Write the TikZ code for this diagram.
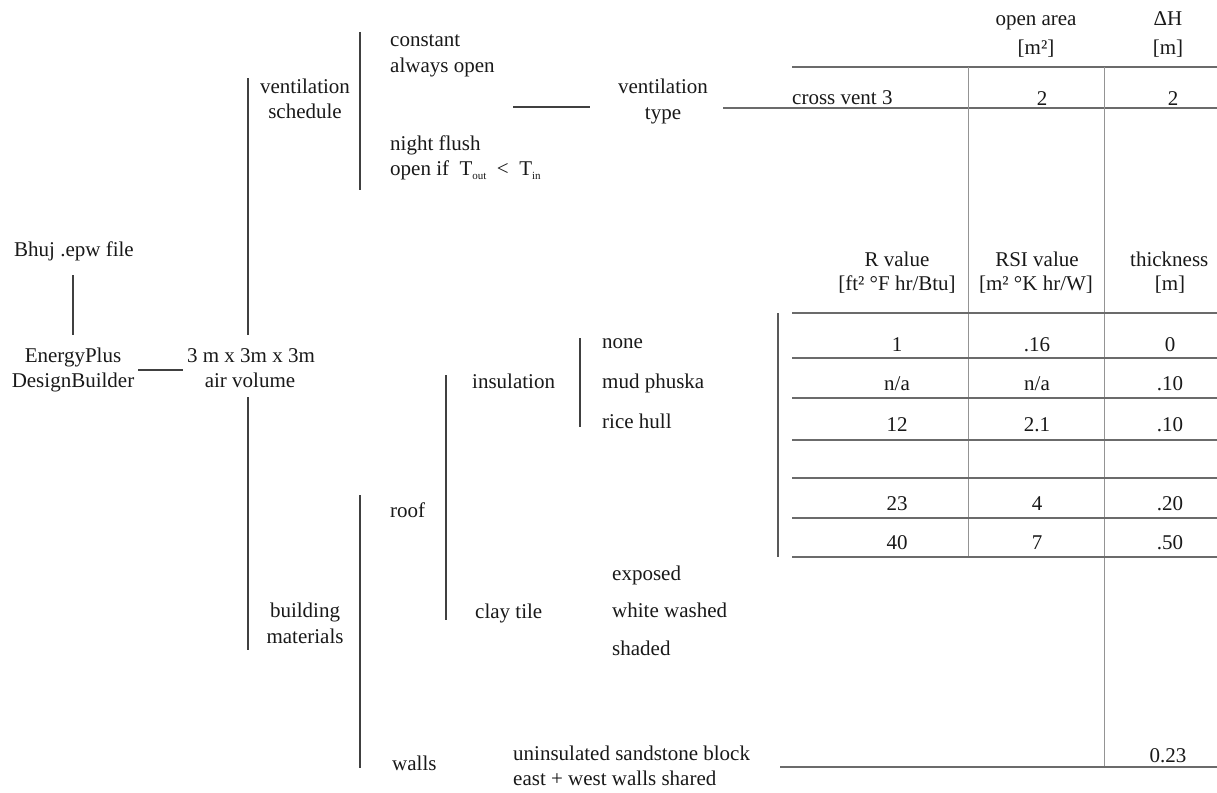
\documentclass[tikz,border=0pt]{standalone}
\usepackage{fontspec}
\setmainfont{Liberation Serif}
% small lowered index used for T_out and T_in
\newcommand\lowidx[1]{\raisebox{-4pt}{\fontsize{11}{11}\selectfont #1}}
\begin{document}
\begin{tikzpicture}[x=1pt,y=-1pt,
  txt/.style={inner sep=0pt, anchor=base, text=black!90, font=\fontsize{21}{25}\selectfont},
  lft/.style={txt, anchor=base west},
  tree/.style={draw=black!75, line width=1.8pt},
  rowrule/.style={draw=black!58, line width=1.2pt},
  colrule/.style={draw=black!42, line width=1pt},
  brace/.style={draw=black!65, line width=2.6pt},
]
\useasboundingbox[fill=white] (0,0) rectangle (1217,792);

% ---------------- left part of the tree ----------------
\node[txt] (bhuj) at (74,256) {Bhuj .epw file};
\node[txt] (ep1) at (73,362) {EnergyPlus};
\node[txt] (ep2) at (73,387) {DesignBuilder};
\node[txt] (vol1) at (251,362) {3 m x 3m x 3m};
\node[txt] (vol2) at (250,387) {air volume};
\coordinate (bhujdown) at (73,275);
\coordinate (epup) at (73,335);
\draw[tree] (bhujdown) -- (epup);
\coordinate (epright) at (138,370);
\coordinate (volleft) at (183,370);
\draw[tree] (epright) -- (volleft);

% trunk above and below the air volume
\draw[tree] (248,78) -- (248,335);
\draw[tree] (248,397) -- (248,650);

% ---------------- ventilation branch ----------------
\node[txt] (vs1) at (305,93) {ventilation};
\node[txt] (vs2) at (305,118) {schedule};
\draw[tree] (360,32) -- (360,190);
\node[lft] (const1) at (390,47) {constant};
\node[lft] (const2) at (390,72) {always open};
\node[lft] (night1) at (390,150) {night flush};
\node[lft] (night2) at (390,175) {open if\ \ T\lowidx{out}\ \ <\ \ T\lowidx{in}};
\coordinate (schedend) at (513,107);
\coordinate (typestart) at (590,107);
\draw[tree] (schedend) -- (typestart);
\node[txt] (vt1) at (663,93) {ventilation};
\node[txt] (vt2) at (663,119) {type};
\draw[rowrule] (723,108) -- (1217,108);

% ventilation table
\node[txt] (oa1) at (1036,26) {open area};
\node[txt] (oa2) at (1036,55) {[m²]};
\node[txt] (dh1) at (1168,26) {ΔH};
\node[txt] (dh2) at (1168,55) {[m]};
\draw[rowrule] (792,67) -- (1217,67);
\node[lft] (cv) at (792,104) {cross vent 3};
\node[txt] (cva) at (1042,105) {2};
\node[txt] (cvh) at (1173,105) {2};

% column rules shared by both tables
\draw[colrule] (968,67) -- (968,557);
\draw[colrule] (1104,67) -- (1104,767);

% ---------------- building materials branch ----------------
\node[txt] (bm1) at (305,617) {building};
\node[txt] (bm2) at (305,643) {materials};
\draw[tree] (360,495) -- (360,768);
\node[lft] (roof) at (390,517) {roof};
\draw[tree] (446,375) -- (446,620);
\node[lft] (ins) at (472,388) {insulation};
\draw[tree] (580,338) -- (580,427);
\node[lft] (none) at (602,348) {none};
\node[lft] (mud) at (602,388) {mud phuska};
\node[lft] (rice) at (602,428) {rice hull};
\node[lft] (clay) at (475,618) {clay tile};
\node[lft] (exp) at (612,580) {exposed};
\node[lft] (ww) at (612,617) {white washed};
\node[lft] (sh) at (612,655) {shaded};
\node[lft] (walls) at (392,770) {walls};
\node[lft] (wd1) at (513,760) {uninsulated sandstone block};
\node[lft] (wd2) at (513,785) {east + west walls shared};

% insulation table
\node[txt] (rh1) at (897,266) {R value};
\node[txt] (rh2) at (897,290) {[ft² °F hr/Btu]};
\node[txt] (sh1) at (1037,266) {RSI value};
\node[txt] (sh2) at (1036,290) {[m² °K hr/W]};
\node[lft] (th1) at (1130,266) {thickness};
\node[txt] (th2) at (1170,290) {[m]};
\draw[brace] (778,313) -- (778,557);
\foreach \y in {313,358,398,440,478,518,557}
  \draw[rowrule] (792,\y) -- (1217,\y);
\foreach \y/\r/\s/\t in {351/1/.16/0, 390/n\slash a/n\slash a/.10, 431/12/2.1/.10, 510/23/4/.20, 549/40/7/.50}{
  \node[txt] at (897,\y) {\r};
  \node[txt] at (1037,\y) {\s};
  \node[txt] at (1170,\y) {\t};
}
\draw[rowrule] (780,767) -- (1217,767);
\node[txt] (wallt) at (1168,762) {0.23};
\end{tikzpicture}
\end{document}
